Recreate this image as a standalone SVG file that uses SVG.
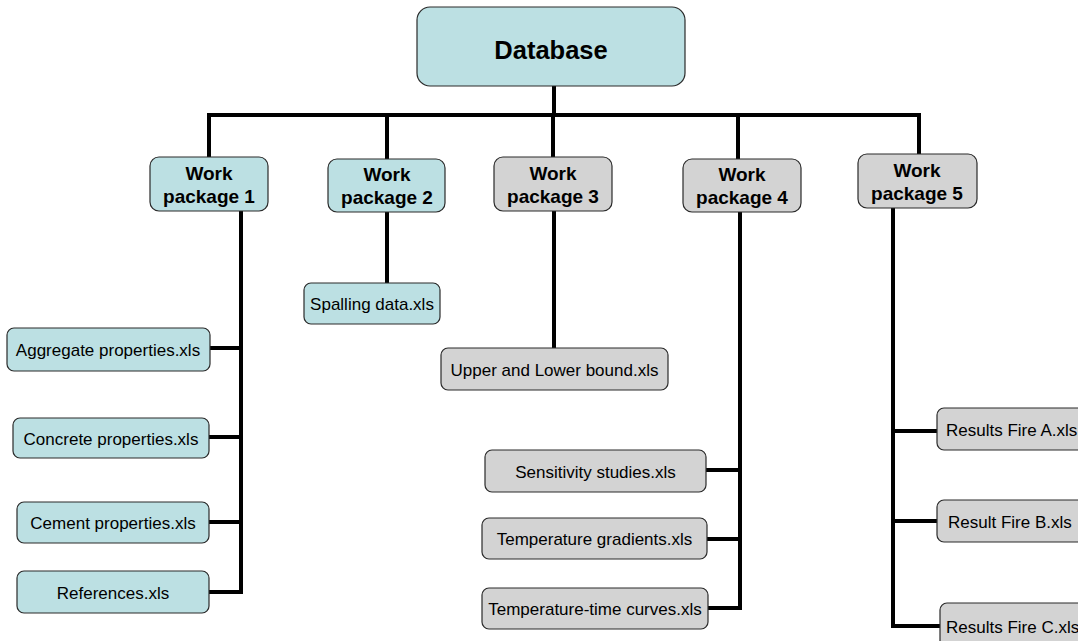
<svg xmlns="http://www.w3.org/2000/svg" width="1078" height="641" viewBox="0 0 1078 641">
<style>
.teal{fill:#BCE0E3;stroke:#2a2a2a;stroke-width:1.2}
.grey{fill:#D3D3D3;stroke:#2a2a2a;stroke-width:1.2}
.wp{font-family:"Liberation Sans",Arial,sans-serif;font-weight:bold;font-size:19px;fill:#000;text-anchor:middle}
.db{font-family:"Liberation Sans",Arial,sans-serif;font-weight:bold;font-size:25.5px;fill:#000;text-anchor:middle}
.f{font-family:"Liberation Sans",Arial,sans-serif;font-size:17px;fill:#000;text-anchor:middle}
.fs{font-family:"Liberation Sans",Arial,sans-serif;font-size:17px;fill:#000}
.c{stroke:#000;stroke-width:4;fill:none;stroke-linecap:square}
</style>
<rect width="1078" height="641" fill="#fff"/>
<g id="connectors">
<path class="c" d="M554 86V115M209 115H919M209 115V157M387 115V159M553 115V157M738 115V159M919 115V154"/>
<path class="c" d="M241 211V592M210 348H241M209 437H241M209 522H241M209 592H241"/>
<path class="c" d="M387 212V283"/>
<path class="c" d="M554 211V348"/>
<path class="c" d="M740 212V608M706 470H740M707 539H740M708 608H740"/>
<path class="c" d="M893 208V626M893 431H937M893 521H937M893 626H940"/>
</g>
<g id="database"><rect class="teal" x="417" y="7" width="268" height="79" rx="13"/><text class="db" x="551" y="59">Database</text></g>
<g id="wp1"><rect class="teal" x="150" y="157" width="118" height="54" rx="9"/><text class="wp" x="209" y="180">Work</text><text class="wp" x="209" y="203">package 1</text></g>
<g id="wp2"><rect class="teal" x="328" y="159" width="117" height="53" rx="9"/><text class="wp" x="387" y="181">Work</text><text class="wp" x="387" y="204">package 2</text></g>
<g id="wp3"><rect class="grey" x="494" y="157" width="118" height="54" rx="9"/><text class="wp" x="553" y="180">Work</text><text class="wp" x="553" y="203">package 3</text></g>
<g id="wp4"><rect class="grey" x="683" y="159" width="118" height="53" rx="9"/><text class="wp" x="742" y="181">Work</text><text class="wp" x="742" y="204">package 4</text></g>
<g id="wp5"><rect class="grey" x="858" y="154" width="119" height="54" rx="9"/><text class="wp" x="917" y="177">Work</text><text class="wp" x="917" y="200">package 5</text></g>
<g id="aggregate"><rect class="teal" x="7" y="328" width="203" height="43" rx="7"/><text class="f" x="108" y="356">Aggregate properties.xls</text></g>
<g id="concrete"><rect class="teal" x="13" y="418" width="196" height="40" rx="7"/><text class="f" x="111" y="444.5">Concrete properties.xls</text></g>
<g id="cement"><rect class="teal" x="17" y="502" width="192" height="41" rx="7"/><text class="f" x="113" y="529">Cement properties.xls</text></g>
<g id="references"><rect class="teal" x="17" y="571" width="192" height="42" rx="7"/><text class="f" x="113" y="598.5">References.xls</text></g>
<g id="spalling"><rect class="teal" x="304" y="283" width="136" height="41" rx="7"/><text class="f" x="372" y="310">Spalling data.xls</text></g>
<g id="upperlower"><rect class="grey" x="441" y="348" width="227" height="42" rx="7"/><text class="f" x="554.5" y="375.5">Upper and Lower bound.xls</text></g>
<g id="sensitivity"><rect class="grey" x="485" y="450" width="221" height="42" rx="7"/><text class="f" x="595.5" y="477.5">Sensitivity studies.xls</text></g>
<g id="tempgrad"><rect class="grey" x="482" y="518" width="225" height="41" rx="7"/><text class="f" x="594.5" y="545">Temperature gradients.xls</text></g>
<g id="temptime"><rect class="grey" x="482" y="588" width="226" height="41" rx="7"/><text class="f" x="595" y="615">Temperature-time curves.xls</text></g>
<g id="fireA"><rect class="grey" x="937" y="408" width="160" height="42" rx="7"/><text class="fs" x="946" y="435.5">Results Fire A.xls</text></g>
<g id="fireB"><rect class="grey" x="937" y="500" width="160" height="42" rx="7"/><text class="fs" x="948" y="527.5">Result Fire B.xls</text></g>
<g id="fireC"><rect class="grey" x="940" y="603" width="160" height="45" rx="7"/><text class="fs" x="946" y="632.5">Results Fire C.xls</text></g>
</svg>
